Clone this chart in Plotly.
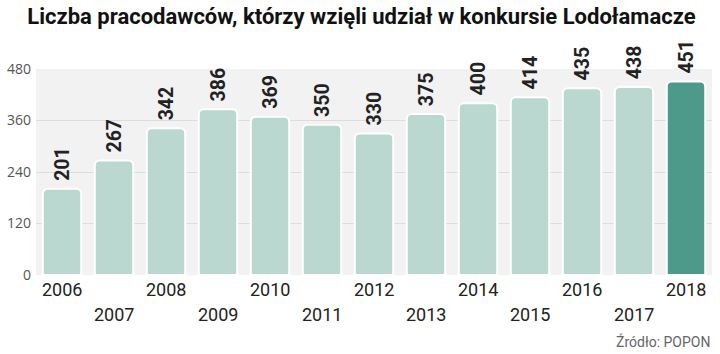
import plotly.graph_objects as go

years = ["2006","2007","2008","2009","2010","2011","2012","2013","2014","2015","2016","2017","2018"]
values = [201, 267, 342, 386, 369, 350, 330, 375, 400, 414, 435, 438, 451]
y_ticks = [0, 120, 240, 360, 480]

light = "#BAD8CF"
dark = "#4D9A8A"
colors = [light] * (len(years) - 1) + [dark]

cond = "Roboto, sans-serif"

fig = go.Figure()
fig.add_trace(go.Bar(
    x=list(range(len(years))), y=values,
    marker=dict(color=colors, line=dict(color="white", width=2), cornerradius=5),
    width=0.74,
    text=["\u00a0" + str(v) for v in values],
    textposition="outside",
    textangle=-90,
    textfont=dict(family=cond, size=21, color="#222222", weight="bold"),
    cliponaxis=False,
    hoverinfo="skip",
))

annotations = []
for i, yr in enumerate(years):
    annotations.append(dict(
        x=i, xref="x", yref="paper",
        y=-0.068 if i % 2 == 0 else -0.193,
        yanchor="middle", xanchor="center",
        text=yr, showarrow=False,
        font=dict(family=cond, size=18, color="#222222"),
    ))
annotations.append(dict(
    x=1, xref="paper", y=-0.325, yref="paper", xanchor="right", yanchor="middle",
    text="Źródło: POPON", showarrow=False,
    font=dict(family=cond, size=14, color="#666666"),
))

fig.update_layout(
    width=720, height=354,
    margin=dict(l=36, r=8, t=69, b=79),
    paper_bgcolor="white",
    plot_bgcolor="#F2F2F2",
    title=dict(
        text="<b>Liczba pracodawców, którzy wzięli udział w konkursie Lodołamacze</b>",
        x=0.038, xanchor="left", y=0.955, yanchor="middle",
        font=dict(family=cond, size=22, color="#111111"),
    ),
    xaxis=dict(showticklabels=False, showgrid=False, zeroline=False, range=[-0.5, 12.5]),
    yaxis=dict(
        range=[0, 480], tickvals=y_ticks, ticktext=[str(t) for t in y_ticks],
        showgrid=True, gridcolor="#DCDCDC", gridwidth=1, zeroline=False,
        tickfont=dict(family="Open Sans, sans-serif", size=14, color="#555555"),
        ticks="", ticklabelstandoff=4,
    ),
    annotations=annotations,
    showlegend=False,
    bargap=0.26,
)

fig.write_html("out.html")
